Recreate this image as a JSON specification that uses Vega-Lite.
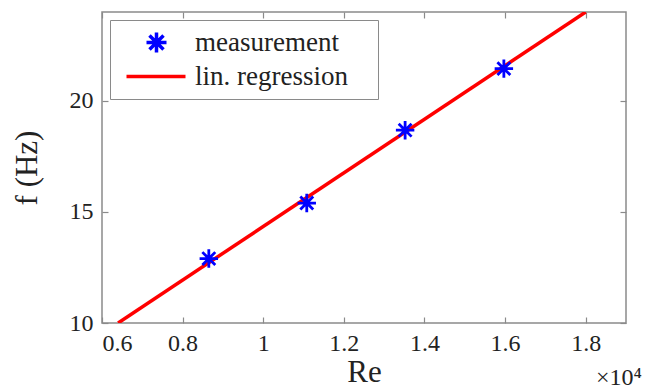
{
  "$schema": "https://vega.github.io/schema/vega-lite/v6.json",
  "width": 524,
  "height": 311,
  "autosize": "none",
  "padding": {"left": 102, "top": 12, "right": 28, "bottom": 69},
  "background": "white",
  "config": {
    "view": {"stroke": "#8a8a8a", "strokeWidth": 1.5},
    "axis": {
      "domain": false,
      "grid": false,
      "tickColor": "#8a8a8a",
      "tickWidth": 1.2,
      "tickSize": -6,
      "labelFont": "Liberation Serif",
      "labelFontSize": 24,
      "labelColor": "#222222",
      "titleFont": "Liberation Serif",
      "titleFontSize": 31,
      "titleFontWeight": "normal",
      "titleColor": "#222222"
    },
    "legend": {
      "labelFont": "Liberation Serif",
      "labelFontSize": 27,
      "labelColor": "#222222"
    }
  },
  "datasets": {
    "meas": [
      {"Re": 0.865, "f": 12.9},
      {"Re": 1.108, "f": 15.4},
      {"Re": 1.352, "f": 18.68},
      {"Re": 1.597, "f": 21.45}
    ],
    "fit": [
      {"Re": 0.64, "f": 10},
      {"Re": 1.8, "f": 24}
    ],
    "keys": []
  },
  "layer": [
    {
      "data": {"name": "fit"},
      "mark": {"type": "line", "strokeWidth": 3.5, "color": "#ff0000", "clip": true},
      "encoding": {
        "x": {
          "field": "Re", "type": "quantitative",
          "scale": {"domain": [0.6, 1.9], "nice": false, "zero": false},
          "axis": {"orient": "bottom", "title": "Re", "values": [0.6, 0.8, 1, 1.2, 1.4, 1.6, 1.8], "format": ".1~f", "labelPadding": 14, "titlePadding": 2}
        },
        "y": {
          "field": "f", "type": "quantitative",
          "scale": {"domain": [10, 24], "nice": false, "zero": false},
          "axis": {"orient": "left", "title": "f (Hz)", "values": [10, 15, 20], "labelPadding": 15, "titlePadding": 26}
        }
      }
    },
    {
      "data": {"name": "meas"},
      "mark": {"type": "point", "filled": false, "strokeWidth": 2.8, "opacity": 1, "color": "#0000ff", "size": 340, "shape": "M0,-1L0,1M-1,0L1,0M-0.7,-0.7L0.7,0.7M-0.7,0.7L0.7,-0.7"},
      "encoding": {
        "x": {"field": "Re", "type": "quantitative", "axis": null},
        "y": {"field": "f", "type": "quantitative", "axis": null}
      }
    },
    {
      "data": {"name": "meas"},
      "mark": {"type": "point", "opacity": 0},
      "encoding": {
        "x": {"field": "Re", "type": "quantitative", "axis": {"orient": "top", "title": null, "labels": false, "values": [0.6, 0.8, 1, 1.2, 1.4, 1.6, 1.8]}},
        "y": {"field": "f", "type": "quantitative", "axis": {"orient": "right", "title": null, "labels": false, "values": [10, 15, 20]}}
      }
    },
    {
      "data": {"name": "keys"},
      "mark": {"type": "point", "filled": false, "size": 400, "strokeWidth": 3, "opacity": 1},
      "encoding": {
        "color": {
          "field": "series", "type": "nominal",
          "scale": {"domain": ["measurement", "lin. regression"], "range": ["#0000ff", "#ff0000"]},
          "legend": {
            "title": null,
            "orient": "top-left",
            "offset": 8,
            "padding": 9,
            "rowPadding": 2,
            "labelOffset": 49,
            "symbolSize": 400,
            "symbolStrokeWidth": 3.5,
            "symbolOpacity": 1,
            "strokeColor": "#8a8a8a",
            "fillColor": "white",
            "labelLimit": 400,
            "labelExpr": "datum.label + '\u00a0\u00a0\u00a0\u200b'"
          }
        },
        "shape": {
          "field": "series", "type": "nominal",
          "scale": {"domain": ["measurement", "lin. regression"], "range": ["M2.4,-1L2.4,1M1.4,0L3.4,0M1.7,-0.7L3.1,0.7M1.7,0.7L3.1,-0.7", "M-0.6,0L5.3,0"]},
          "legend": {"title": null}
        }
      }
    },
    {
      "data": {"values": [{"label": "×10⁴"}]},
      "mark": {"type": "text", "font": "Liberation Serif", "fontSize": 24, "color": "#222222", "align": "left", "baseline": "middle", "dx": -30, "dy": 55, "clip": false},
      "encoding": {
        "x": {"datum": 1.9, "type": "quantitative", "axis": null},
        "y": {"datum": 10, "type": "quantitative", "axis": null},
        "text": {"field": "label"}
      }
    }
  ],
  "resolve": {"axis": {"x": "independent", "y": "independent"}}
}
